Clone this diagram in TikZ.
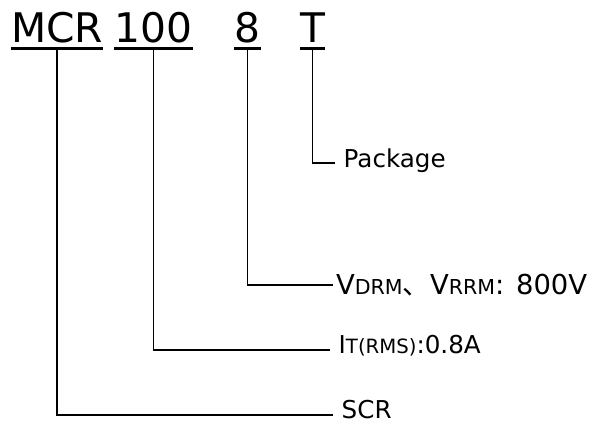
\documentclass[tikz,border=0pt]{standalone}
\usepackage{fontspec}
\setmainfont{DejaVu Sans}
\newfontfamily\cjk{Noto Sans CJK SC}
\newcommand{\smc}[2][0.75]{\scalebox{#1}{#2}}

\begin{document}
\begin{tikzpicture}[x=0.025cm, y=-0.025cm, code/.style={font=\fontsize{29}{34}\selectfont, anchor=base, inner sep=0pt}, lab/.style={font=\fontsize{17.5}{21}\selectfont, anchor=base west, inner xsep=6pt, inner ysep=0pt}, conn/.style={line width=1pt}, uline/.style={line width=2pt}]
	\useasboundingbox (0,0) rectangle (600,425);
	\node[code] (mcr) at (57,43) {MCR};
	\node[code] (num) at (153.5,43) {100};
	\node[code] (volt) at (247.5,43) {8};
	\node[code] (pkg) at (312.5,43) {T};
	\foreach \n in {mcr,num,volt,pkg} {\draw[uline] ([yshift=-3.9pt]\n.base west) -- ([yshift=-3.9pt]\n.base east);}
	\node[lab] (lpkg) at (335,168) {Package};
	\node[lab, font=\fontsize{19.5}{23}\selectfont, inner xsep=2pt] (lvolt) at (333,295) {V\smc{DRM}{\cjk 、}V\smc{RRM}: 800V};
	\node[lab] (lcur) at (330,354) {I\smc[0.8]{T(RMS)}:0.8A};
	\node[lab] (lscr) at (333,419) {SCR};
	\draw[conn] ([yshift=-3.9pt]pkg.base) |- ([yshift=3.6pt]lpkg.base west);
	\draw[conn] ([yshift=-3.9pt]volt.base) |- ([yshift=7pt]lvolt.base west);
	\draw[conn] ([yshift=-3.9pt]num.base) |- ([yshift=2.8pt]lcur.base west);
	\draw[conn] ([yshift=-3.9pt]mcr.base) |- ([yshift=2.8pt]lscr.base west);
\end{tikzpicture}
\end{document}
